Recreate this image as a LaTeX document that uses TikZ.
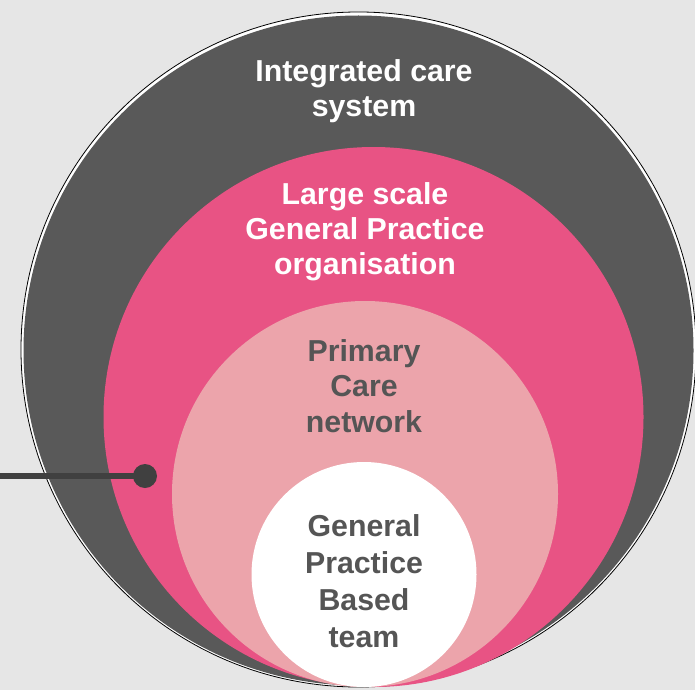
\documentclass[tikz,border=0pt]{standalone}
\usepackage{fontspec}
\setmainfont{Liberation Sans}
\definecolor{bgc}{HTML}{E6E6E6}
\definecolor{darkc}{HTML}{595959}
\definecolor{pinkc}{HTML}{E85384}
\definecolor{lightpinkc}{HTML}{ECA4AB}
\definecolor{textgray}{HTML}{555555}
\definecolor{linec}{HTML}{404040}
\tikzset{
  lbl/.style={align=center, anchor=base, inner sep=0pt, font=\bfseries\fontsize{30.3}{35}\selectfont},
  ring/.style={circle, inner sep=0pt, minimum size=#1},
}
\begin{document}
\begin{tikzpicture}[x=1pt,y=-1pt]
\fill[bgc] (0,0) rectangle (695,690);
\useasboundingbox (0,0) rectangle (695,690);
% outer circle with black outline and white ring
\node[ring=675pt, fill=white, draw=black, line width=0.8pt] (outer) at (358.5,349.5) {};
\node[ring=670pt, fill=darkc] (ics) at (358.5,350.5) {};
\node[ring=540pt, fill=pinkc] (lsgp) at (373.5,417) {};
\node[ring=386pt, fill=lightpinkc] (pcn) at (365,494) {};
\node[ring=225pt, fill=white] (gpbt) at (364,574.5) {};
% labels (anchor = baseline of last line)
\node[lbl, text=white] (t1) at (364,117) {Integrated care\\system};
\node[lbl, text=white] (t2) at (365,274) {Large scale\\General Practice\\organisation};
\node[lbl, text=textgray, font=\bfseries\fontsize{30.3}{35.5}\selectfont] (t3) at (364,432) {Primary\\Care\\network};
\node[lbl, text=textgray, font=\bfseries\fontsize{30.3}{36.7}\selectfont] (t4) at (364,647) {General\\Practice\\Based\\team};
% pointer
\coordinate (lstart) at (0,476);
\node[circle, fill=linec, inner sep=0pt, minimum size=24pt] (dot) at (145,476) {};
\draw[linec, line width=6.5pt] (lstart) -- (dot.center);
\end{tikzpicture}
\end{document}
